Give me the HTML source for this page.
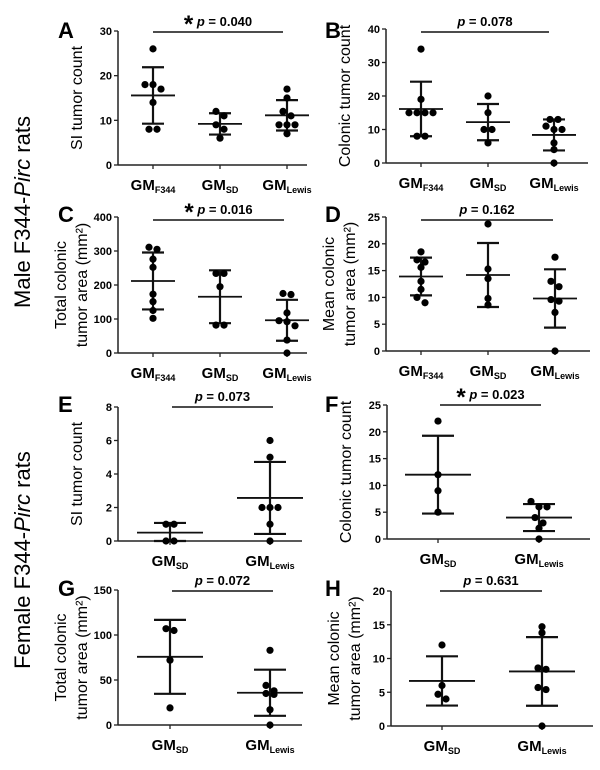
<!DOCTYPE html>
<html><head><meta charset="utf-8"><style>
html,body{margin:0;padding:0;background:#fff;}
svg{display:block;font-family:"Liberation Sans",Arial,sans-serif;}
</style></head><body>
<svg id="fig" width="600" height="770" viewBox="0 0 600 770">
<text transform="translate(30,212) rotate(-90)" text-anchor="middle" font-size="22">Male F344-<tspan font-style="italic">Pirc</tspan> rats</text>
<text transform="translate(30,560) rotate(-90)" text-anchor="middle" font-size="22">Female F344-<tspan font-style="italic">Pirc</tspan> rats</text>
</svg>
<script>
// ---- data ----
const threeGroups = ["F344","SD","Lewis"];
const twoGroups = ["SD","Lewis"];
const aF344 = [26,18,18,17,14,8,8];
const aSD = [12,11,9,8,6];
const aLewis = [17,15,12,11,9,9,9,7];
const bF344 = [34,19,15,15,15,15,8,8];
const bSD = [20,15,10,10,6];
const bLewis = [13,13,11,10,10,6,4,0];
const cF344 = [311,305,276,252,173,151,125,102];
const cSD = [234,234,195,82,82];
const cLewis = [175,172,118,95,92,80,38,0];
const dF344 = [18.5,17,16.6,15.6,13,11.5,10,9];
const dSD = [23.7,15.3,13.5,9.8,8.6];
const dLewis = [17.5,13,12,9.6,9.3,7.2,0];
const eSD = [1,1,0,0];
const eLewis = [6,5,2,2,2,1,0];
const fSD = [22,12,9,5];
const fLewis = [7,6,6,4,3,2,0];
const gSD = [107,105,72,19];
const gLewis = [83,44,38,35,34,17,0];
const hSD = [12,6,4.7,4];
const hLewis = [14.7,13.8,8.6,8.4,5.7,5.4,0];
const aTicks = [0,10,20,30];
const bTicks = [0,10,20,30,40];
const cTicks = [0,100,200,300,400];
const dTicks = [0,5,10,15,20,25];
const eTicks = [0,2,4,6,8];
const fTicks = [0,5,10,15,20,25];
const gTicks = [0,50,100,150];
const hTicks = [0,5,10,15,20];
const pValues = ["0.040","0.078","0.016","0.162","0.073","0.023","0.072","0.631"];
const significant = [true,false,true,false,false,true,false,false];

const NS="http://www.w3.org/2000/svg";
const svg=document.getElementById('fig');
function mk(tag,attrs,parent){const e=document.createElementNS(NS,tag);for(const k in attrs)e.setAttribute(k,attrs[k]);(parent||svg).appendChild(e);return e;}

const panels=[
 {L:"A",data:[aF344,aSD,aLewis],groups:threeGroups,ticks:aTicks,ax:118,top:31,bot:165,xs:[153,220,287],end:307,title:["SI tumor count"],lx:58,ly:38,p:0,py:32,pl:[153,283]},
 {L:"B",data:[bF344,bSD,bLewis],groups:threeGroups,ticks:bTicks,ax:386,top:29,bot:163,xs:[421,488,554],end:588,title:["Colonic tumor count"],lx:325,ly:38,p:1,py:32,pl:[421,549]},
 {L:"C",data:[cF344,cSD,cLewis],groups:threeGroups,ticks:cTicks,ax:118,top:217,bot:353,xs:[153,220,287],end:307,title:["Total colonic","tumor area (mm²)"],lx:58,ly:222,p:2,py:220,pl:[153,284]},
 {L:"D",data:[dF344,dSD,dLewis],groups:threeGroups,ticks:dTicks,ax:386,top:217,bot:351,xs:[421,488,555],end:590,title:["Mean colonic","tumor area (mm²)"],lx:325,ly:222,p:3,py:220,pl:[421,553]},
 {L:"E",data:[eSD,eLewis],groups:twoGroups,ticks:eTicks,ax:118,top:407,bot:541,xs:[170,270],end:302,title:["SI tumor count"],lx:58,ly:412,p:4,py:407,pl:[172,273]},
 {L:"F",data:[fSD,fLewis],groups:twoGroups,ticks:fTicks,ax:387,top:405,bot:539,xs:[438,539],end:590,title:["Colonic tumor count"],lx:325,ly:412,p:5,py:405,pl:[440,541]},
 {L:"G",data:[gSD,gLewis],groups:twoGroups,ticks:gTicks,ax:118,top:590,bot:725,xs:[170,270],end:302,title:["Total colonic","tumor area (mm²)"],lx:58,ly:596,p:6,py:591,pl:[172,273]},
 {L:"H",data:[hSD,hLewis],groups:twoGroups,ticks:hTicks,ax:391,top:591,bot:726,xs:[442,542],end:593,title:["Mean colonic","tumor area (mm²)"],lx:325,ly:596,p:7,py:591,pl:[440,542]}
];

panels.forEach(P=>{
 const g=mk('g',{});
 
 
 const maxT=P.ticks[P.ticks.length-1];
 const y=v=>P.bot-(v/maxT)*(P.bot-P.top);
 const three=P.groups.length===3;
 // letter
 const lt=mk('text',{x:P.lx,y:P.ly,'font-size':22,'font-weight':'bold'},g);lt.textContent=P.L;
 
 
 // y title
 const tx=P.ax-(P.title.length===2?52:36);
 P.title.forEach((t,i)=>{
  const cx=tx+i*21-(P.title.length===2?0:0);
  const tt=mk('text',{transform:`translate(${cx},${(P.top+P.bot)/2}) rotate(-90)`,'text-anchor':'middle','font-size':16},g);
  tt.textContent=t;
  
  
 });
 // axes
 mk('line',{x1:P.ax,y1:P.top,x2:P.ax,y2:P.bot,stroke:'#222','stroke-width':1.5},g);
 mk('line',{x1:P.ax,y1:P.bot,x2:P.end,y2:P.bot,stroke:'#222','stroke-width':1.5},g);
 P.ticks.forEach(t=>{
  mk('line',{x1:P.ax-4,y1:y(t),x2:P.ax,y2:y(t),stroke:'#222','stroke-width':1.3},g);
  const tl=mk('text',{x:P.ax-6,y:y(t)+4,'text-anchor':'end','font-size':11,'font-weight':'bold'},g);
  tl.textContent=t;
  
  
 });
 P.groups.forEach((grp,gi)=>{
  const cx=P.xs[gi];
  mk('line',{x1:cx,y1:P.bot,x2:cx,y2:P.bot+4,stroke:'#222','stroke-width':1.3},g);
  const gl=mk('text',{x:cx,y:P.bot+25,'text-anchor':'middle','font-size':15,'font-weight':'bold'},g);
  gl.innerHTML='GM<tspan font-size="9" dy="3">'+grp+'</tspan>';
  
  
  const vals=P.data[gi];
  const n=vals.length;
  const mean=vals.reduce((a,b)=>a+b,0)/n;
  const sd=Math.sqrt(vals.reduce((a,b)=>a+(b-mean)*(b-mean),0)/(n-1));
  const mw=three?22:33, cw=three?11:16;
  mk('line',{x1:cx,y1:y(Math.min(maxT,mean+sd)),x2:cx,y2:y(Math.max(0,mean-sd)),stroke:'#111','stroke-width':2.2},g);
  const ml=mk('line',{x1:cx-mw,y1:y(mean),x2:cx+mw,y2:y(mean),stroke:'#111','stroke-width':1.8},g);
  
  
  [mean+sd,mean-sd].forEach(v=>{
   const c=mk('line',{x1:cx-cw,y1:y(Math.max(0,Math.min(maxT,v))),x2:cx+cw,y2:y(Math.max(0,Math.min(maxT,v))),stroke:'#111','stroke-width':2.2},g);
   
   
  });
  // jittered points: cluster close pixel values
  const sorted=vals.slice().sort((a,b)=>b-a);
  const clusters=[];
  sorted.forEach(v=>{const py=y(v);const last=clusters[clusters.length-1];
   if(last&&Math.abs(last.y0-py)<6)last.items.push(py);else clusters.push({y0:py,items:[py]});});
  clusters.forEach(cl=>{
   const k=cl.items.length;
   cl.items.forEach((py,i)=>{
    const dx=(i-(k-1)/2)*8;
    const d=mk('circle',{cx:cx+dx,cy:py,r:3.6,fill:'#000'},g);
    
    
   });
  });
 });
 // p-value
 mk('line',{x1:P.pl[0],y1:P.py,x2:P.pl[1],y2:P.py,stroke:'#111','stroke-width':1.5},g);
 const mid=(P.pl[0]+P.pl[1])/2;
 const pt=mk('text',{x:mid,y:P.py-6,'text-anchor':'middle','font-size':13,'font-weight':'bold'},g);
 pt.innerHTML=(significant[P.p]?'<tspan font-size="24" dy="6">*</tspan><tspan dy="-6"> </tspan>':'')+'<tspan font-style="italic">p</tspan> = '+pValues[P.p];
 
 
});
</script>
</body></html>
